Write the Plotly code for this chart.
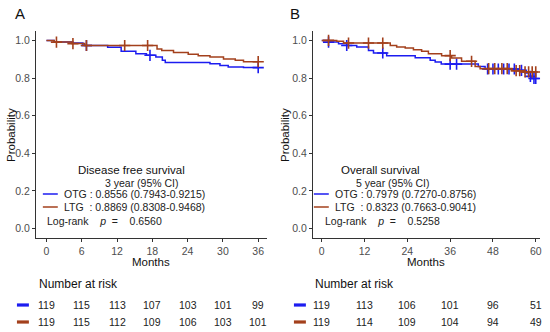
import plotly.graph_objects as go
import numpy as np

# ---------------- data ----------------
# Panel A: disease free survival
A_otg_t = [0, 1.3, 4.5, 6.2, 10.4, 12.7, 15.2, 17.0, 18.6, 19.7, 20.2, 27.8, 29.5, 30.9, 33.5, 36.0]
A_otg_s = [1.0, 0.991, 0.986, 0.973, 0.963, 0.942, 0.929, 0.921, 0.912, 0.894, 0.883, 0.876, 0.867, 0.859, 0.8556, 0.8556]
A_otg_cens = [6.8, 17.6, 36.0]
A_ltg_t = [0, 1.3, 4.3, 6.5, 18.8, 19.6, 21.6, 24.1, 25.8, 27.8, 30.1, 32.1, 33.5, 36.0]
A_ltg_s = [1.0, 0.991, 0.983, 0.973, 0.954, 0.947, 0.936, 0.927, 0.919, 0.912, 0.901, 0.894, 0.8869, 0.8869]
A_ltg_cens = [1.7, 4.5, 6.8, 13.3, 17.2, 36.0]
A_ticks = [0, 6, 12, 18, 24, 30, 36]
A_risk_otg = [119, 115, 113, 107, 103, 101, 99]
A_risk_ltg = [119, 115, 112, 109, 106, 103, 101]

# Panel B: overall survival
B_otg_t = [0, 1.9, 4.7, 7.0, 9.8, 13.1, 14.5, 18.2, 26.2, 30.4, 31.8, 33.5, 43.9, 45.8, 55.1, 57.0, 58.0, 58.9, 60.0]
B_otg_s = [1.0, 0.991, 0.982, 0.973, 0.965, 0.947, 0.933, 0.919, 0.908, 0.894, 0.885, 0.874, 0.862, 0.848, 0.841, 0.827, 0.809, 0.7979, 0.7979]
B_otg_cens = [1.9, 7.0, 17.1, 36.0, 37.8, 46.5, 48.0, 49.5, 51.0, 52.5, 54.0, 56.0, 58.5, 59.5, 60.0]
B_ltg_t = [0, 4.2, 6.1, 19.2, 21.0, 23.4, 25.7, 28.0, 29.9, 33.6, 36.4, 39.2, 43.0, 44.4, 53.3, 56.1, 60.0]
B_ltg_s = [1.0, 0.995, 0.986, 0.973, 0.965, 0.959, 0.95, 0.942, 0.929, 0.919, 0.906, 0.889, 0.862, 0.85, 0.839, 0.8323, 0.8323]
B_ltg_cens = [1.9, 7.5, 13.1, 17.1, 36.0, 42.0, 46.8, 48.5, 50.5, 52.0, 54.5, 55.5, 57.0, 58.0, 59.0, 60.0]
B_ticks = [0, 12, 24, 36, 48, 60]
B_risk_otg = [119, 113, 106, 101, 96, 51]
B_risk_ltg = [119, 114, 109, 104, 94, 49]

Y_ticks = [0.0, 0.2, 0.4, 0.6, 0.8, 1.0]

BLUE = "#1c1cf0"
BROWN = "#a3401c"
W, H = 550, 332
FONT = "Liberation Sans, Arial, sans-serif"


def px(x):
    return x / W


def py(y):
    return 1 - y / H


def step_at(ts, ss, t):
    i = np.searchsorted(np.array(ts), t, side="right") - 1
    return ss[max(i, 0)]


fig = go.Figure()

panels = [
    dict(xa="x", ya="y", t1=A_otg_t, s1=A_otg_s, c1=A_otg_cens, t2=A_ltg_t, s2=A_ltg_s, c2=A_ltg_cens),
    dict(xa="x2", ya="y2", t1=B_otg_t, s1=B_otg_s, c1=B_otg_cens, t2=B_ltg_t, s2=B_ltg_s, c2=B_ltg_cens),
]
for p in panels:
    for t, s, c, col in [(p["t1"], p["s1"], p["c1"], BLUE), (p["t2"], p["s2"], p["c2"], BROWN)]:
        fig.add_trace(go.Scatter(x=t, y=s, mode="lines", line=dict(color=col, width=1.5, shape="hv"),
                                 xaxis=p["xa"], yaxis=p["ya"], showlegend=False, hoverinfo="skip"))
        fig.add_trace(go.Scatter(x=c, y=[step_at(t, s, ci) for ci in c], mode="markers",
                                 marker=dict(symbol="cross-thin", size=8, line=dict(color=col, width=1.6)),
                                 xaxis=p["xa"], yaxis=p["ya"], showlegend=False, hoverinfo="skip"))

axis_common = dict(showline=True, linecolor="#333333", linewidth=1, ticks="outside", ticklen=3,
                   tickcolor="#333333", showgrid=False, zeroline=False,
                   tickfont=dict(family=FONT, size=10.5, color="#4d4d4d"))
ydom = [py(238), py(31)]
fig.update_layout(
    width=W, height=H, margin=dict(l=0, r=0, t=0, b=0),
    paper_bgcolor="white", plot_bgcolor="white",
    xaxis=dict(domain=[px(36), px(268)], range=[-1.8, 37.5], tickvals=A_ticks, anchor="y", **axis_common),
    yaxis=dict(domain=ydom, range=[-0.05, 1.05], tickvals=Y_ticks, tickformat=".1f", anchor="x", **axis_common),
    xaxis2=dict(domain=[px(314), px(542)], range=[-2.5, 61.2], tickvals=B_ticks, anchor="y2", **axis_common),
    yaxis2=dict(domain=ydom, range=[-0.05, 1.05], tickvals=Y_ticks, tickformat=".1f", anchor="x2", **axis_common),
)

ann = []
shapes = []


def text(x, y, s, size=10.5, xanchor="left", color="#222222", angle=0, xref="paper"):
    ann.append(dict(x=x if xref != "paper" else px(x), y=py(y), xref=xref, yref="paper", text=s,
                    showarrow=False, xanchor=xanchor, yanchor="middle", textangle=angle,
                    font=dict(family=FONT, size=size, color=color)))


# Panel labels
text(13, 14, "A", size=15, color="#111111")
text(289, 14, "B", size=15, color="#111111")

# Axis titles
text(11, 135, "Probability", size=11.5, xanchor="center", color="#111111", angle=-90)
text(286, 135, "Probability", size=11.5, xanchor="center", color="#111111", angle=-90)
text(152, 262, "Months", size=11.5, xanchor="center", color="#111111")
text(428, 262, "Months", size=11.5, xanchor="center", color="#111111")

# In-plot legends
legends = [
    dict(x0=43, title_c=132, sub_c=143, title="Disease free survival", sub="3 year (95% CI)",
         l1="OTG : 0.8556 (0.7943-0.9215)", l2="LTG&nbsp;&nbsp;: 0.8869 (0.8308-0.9468)", p="0.6560", lr=45),
    dict(x0=315, title_c=382, sub_c=394, title="Overall survival", sub="5 year (95% CI)",
         l1="OTG : 0.7979 (0.7270-0.8756)", l2="LTG&nbsp;&nbsp;: 0.8323 (0.7663-0.9041)", p="0.5258", lr=324),
]
for lg in legends:
    text(lg["title_c"], 170, lg["title"], size=11.5, xanchor="center", color="#111111")
    text(lg["sub_c"], 183, lg["sub"], size=10.5, xanchor="center")
    for yy, col, s in [(194, BLUE, lg["l1"]), (207, BROWN, lg["l2"])]:
        shapes.append(dict(type="line", xref="paper", yref="paper", x0=px(lg["x0"]), x1=px(lg["x0"] + 15),
                           y0=py(yy), y1=py(yy), line=dict(color=col, width=1.5)))
        text(lg["x0"] + 19, yy, s, size=10.5)
    text(lg["lr"], 221, "Log-rank&nbsp;&nbsp;&nbsp;&nbsp;<i>p</i>&nbsp;&nbsp;=&nbsp;&nbsp;&nbsp;&nbsp;" + lg["p"], size=10.5)

# Risk tables
for xs, ticks, r1, r2, xref, dx in [(37, A_ticks, A_risk_otg, A_risk_ltg, "x", 17),
                                     (314, B_ticks, B_risk_otg, B_risk_ltg, "x2", 295)]:
    text(xs, 284, "Number at risk", size=12, color="#111111")
    for yy, col, vals in [(305, BLUE, r1), (322, BROWN, r2)]:
        shapes.append(dict(type="rect", xref="paper", yref="paper", x0=px(dx), x1=px(dx + 12),
                           y0=py(yy + 1.6), y1=py(yy - 1.6), line=dict(width=0), fillcolor=col))
        for t, v in zip(ticks, vals):
            text(t, yy, str(v), size=10.5, xanchor="center", xref=xref)

fig.update_layout(annotations=ann, shapes=shapes)
fig.write_html("out.html", config={"displayModeBar": False},
               post_script="document.body.style.margin='0';document.body.style.overflow='hidden';")
